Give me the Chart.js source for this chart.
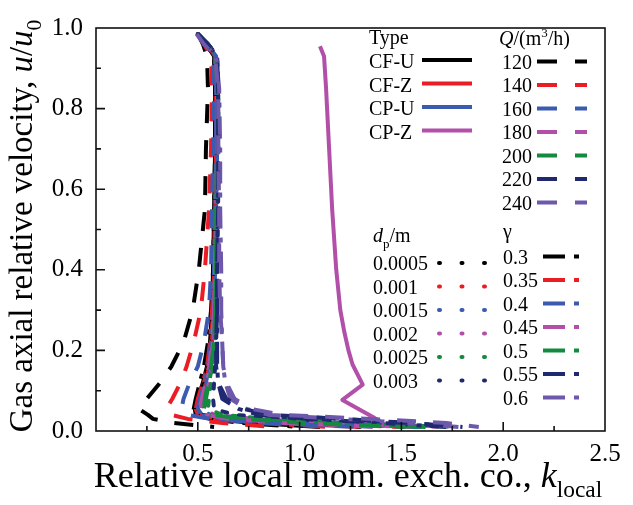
<!DOCTYPE html>
<html>
<head>
<meta charset="utf-8">
<script src="https://cdn.jsdelivr.net/npm/chart.js@4.4.1/dist/chart.umd.min.js"></script>
<style>
  body { margin: 0; background: #fff; }
  canvas { display: block; }
</style>
</head>
<body>
<canvas id="kChart" width="633" height="505"></canvas>
<script>
// shared axial velocity levels (u/u0) for the main cluster of curves
const uLevels = [0.985, 0.96, 0.93, 0.85, 0.70, 0.55, 0.40, 0.30, 0.22, 0.16, 0.12, 0.08, 0.055, 0.04, 0.03, 0.02, 0.01];

// Type (solid)
const typeNames = ["CF-U", "CF-Z", "CP-U", "CP-Z"];
const kCFU = [0.50, 0.54, 0.58, 0.585, 0.585, 0.58, 0.575, 0.57, 0.56, 0.545, 0.525, 0.50, 0.485, 0.49, 0.56, 0.78, 1.10];
const kCFZ = [0.50, 0.545, 0.585, 0.59, 0.59, 0.585, 0.58, 0.575, 0.565, 0.55, 0.53, 0.505, 0.49, 0.50, 0.60, 0.88, 1.30];
const kCPU = [0.50, 0.545, 0.59, 0.595, 0.595, 0.59, 0.585, 0.58, 0.57, 0.555, 0.54, 0.515, 0.50, 0.52, 0.66, 0.98, 1.60];
const uCPZ = [0.955, 0.93, 0.85, 0.70, 0.55, 0.40, 0.30, 0.245, 0.20, 0.165, 0.115, 0.077, 0.035, 0.015];
const kCPZ = [1.10, 1.12, 1.13, 1.145, 1.16, 1.18, 1.20, 1.22, 1.24, 1.26, 1.31, 1.21, 1.36, 1.42];

// Q (dashed)
const qNames = ["120", "140", "160", "180", "200", "220", "240"];
const kQ120 = [0.50, 0.525, 0.545, 0.55, 0.54, 0.535, 0.505, 0.475, 0.43, 0.37, 0.315, 0.25, 0.21, 0.255, 0.28, 0.38, 0.58];
const kQ140 = [0.50, 0.53, 0.565, 0.57, 0.565, 0.555, 0.535, 0.515, 0.48, 0.445, 0.415, 0.375, 0.345, 0.37, 0.45, 0.62, 0.88];
const kQ160 = [0.50, 0.535, 0.575, 0.58, 0.575, 0.57, 0.565, 0.555, 0.53, 0.50, 0.46, 0.43, 0.42, 0.45, 0.56, 0.82, 1.30];
const kQ180 = [0.50, 0.545, 0.59, 0.595, 0.595, 0.59, 0.585, 0.58, 0.57, 0.555, 0.54, 0.52, 0.51, 0.54, 0.66, 0.92, 1.42];
const kQ200 = [0.50, 0.55, 0.59, 0.595, 0.595, 0.59, 0.59, 0.585, 0.58, 0.565, 0.55, 0.535, 0.53, 0.57, 0.72, 1.02, 1.52];
const kQ220 = [0.50, 0.55, 0.595, 0.60, 0.60, 0.60, 0.595, 0.595, 0.59, 0.59, 0.60, 0.64, 0.72, 0.86, 1.20, 1.55, 1.80];
const kQ240 = [0.495, 0.53, 0.585, 0.60, 0.60, 0.605, 0.605, 0.61, 0.62, 0.625, 0.64, 0.68, 0.76, 0.92, 1.35, 1.72, 1.88];

// dp (dotted)
const dpNames = ["0.0005", "0.001", "0.0015", "0.002", "0.0025", "0.003"];
const kD0005 = [0.50, 0.545, 0.585, 0.59, 0.59, 0.585, 0.58, 0.575, 0.565, 0.55, 0.53, 0.51, 0.50, 0.52, 0.62, 0.90, 1.35];
const kD001 = [0.50, 0.545, 0.585, 0.59, 0.59, 0.585, 0.58, 0.575, 0.57, 0.555, 0.54, 0.52, 0.51, 0.54, 0.68, 1.00, 1.50];
const kD0015 = [0.50, 0.55, 0.59, 0.595, 0.595, 0.59, 0.585, 0.58, 0.575, 0.56, 0.545, 0.53, 0.52, 0.56, 0.72, 1.08, 1.62];
const kD002 = [0.50, 0.55, 0.59, 0.595, 0.595, 0.59, 0.59, 0.585, 0.58, 0.57, 0.555, 0.54, 0.535, 0.58, 0.78, 1.15, 1.70];
const kD0025 = [0.50, 0.55, 0.59, 0.60, 0.60, 0.595, 0.59, 0.59, 0.585, 0.575, 0.565, 0.555, 0.55, 0.62, 0.85, 1.22, 1.75];
const kD003 = [0.50, 0.55, 0.595, 0.60, 0.60, 0.60, 0.595, 0.595, 0.59, 0.585, 0.58, 0.575, 0.58, 0.68, 0.95, 1.30, 1.78];

// gamma (dash-dot)
const gammaNames = ["0.3", "0.35", "0.4", "0.45", "0.5", "0.55", "0.6"];
const kG03 = [0.50, 0.54, 0.58, 0.585, 0.585, 0.58, 0.575, 0.565, 0.55, 0.53, 0.51, 0.49, 0.48, 0.49, 0.55, 0.72, 1.00];
const kG035 = [0.50, 0.545, 0.585, 0.59, 0.59, 0.585, 0.58, 0.57, 0.56, 0.545, 0.525, 0.50, 0.49, 0.50, 0.58, 0.80, 1.15];
const kG04 = [0.50, 0.545, 0.585, 0.59, 0.59, 0.585, 0.58, 0.575, 0.565, 0.55, 0.535, 0.51, 0.50, 0.51, 0.62, 0.90, 1.40];
const kG045 = [0.50, 0.55, 0.59, 0.595, 0.595, 0.59, 0.585, 0.58, 0.575, 0.56, 0.545, 0.525, 0.515, 0.53, 0.66, 0.98, 1.55];
const kG05 = [0.50, 0.55, 0.59, 0.595, 0.595, 0.59, 0.59, 0.585, 0.58, 0.57, 0.555, 0.54, 0.53, 0.56, 0.72, 1.05, 1.62];
const kG055 = [0.50, 0.55, 0.595, 0.60, 0.60, 0.60, 0.595, 0.595, 0.595, 0.595, 0.60, 0.62, 0.70, 0.80, 1.05, 1.40, 1.72];
const kG06 = [0.495, 0.535, 0.59, 0.605, 0.61, 0.61, 0.615, 0.615, 0.62, 0.625, 0.635, 0.66, 0.74, 0.85, 1.20, 1.55, 1.78];

// tick labels
const xTickLabels = ["0.5", "1.0", "1.5", "2.0", "2.5"];
const yTickLabels = ["0.0", "0.2", "0.4", "0.6", "0.8", "1.0"];

const BLACK = "#000000", RED = "#ec1c24", BLUE = "#3b5bb0", MAG = "#b14fa9",
      GREEN = "#138a3f", NAVY = "#1f2870", PURPLE = "#6d58ab";
const SERIF = '"Liberation Serif", "Times New Roman", serif';

const DASH = [19, 17], DOT = [5, 12], DASHDOT = [22, 9, 5, 9];

function pts(ks, us) {
  return ks.map((k, i) => ({ x: k, y: us[i] }));
}

const groups = [
  { dash: [], cols: [BLACK, RED, BLUE, MAG], series: [kCFU, kCFZ, kCPU, kCPZ] },
  { dash: DOT, cols: [BLACK, RED, BLUE, MAG, GREEN, NAVY], series: [kD0005, kD001, kD0015, kD002, kD0025, kD003] },
  { dash: DASHDOT, cols: [BLACK, RED, BLUE, MAG, GREEN, NAVY, PURPLE], series: [kG03, kG035, kG04, kG045, kG05, kG055, kG06] },
  { dash: DASH, cols: [BLACK, RED, BLUE, MAG, GREEN, NAVY, PURPLE], series: [kQ120, kQ140, kQ160, kQ180, kQ200, kQ220, kQ240] }
];

const datasets = [];
groups.forEach(g => {
  g.series.forEach((ks, i) => {
    datasets.push({
      data: pts(ks, ks === kCPZ ? uCPZ : uLevels),
      borderColor: g.cols[i],
      borderWidth: 4,
      borderDash: g.dash,
      borderCapStyle: g.dash === DOT ? "round" : "butt",
      borderJoinStyle: "round",
      showLine: true,
      pointRadius: 0,
      tension: 0
    });
  });
});
// later datasets drawn on top
datasets.forEach((d, i) => { d.order = datasets.length - i; });

// text with italic / sub / superscript pieces
function richWidth(ctx, parts, size) {
  let w = 0;
  parts.forEach(p => {
    const s = (p[1] === "sub" || p[1] === "sup" || p[1] === "isub") ? size * 0.65 : size;
    ctx.font = (p[1] === "i" || p[1] === "isub" ? "italic " : "") + s + "px " + SERIF;
    w += ctx.measureText(p[0]).width;
  });
  return w;
}
function richText(ctx, parts, x, y, size, align) {
  let cx = align === "center" ? x - richWidth(ctx, parts, size) / 2 : x;
  ctx.textAlign = "left";
  ctx.textBaseline = "alphabetic";
  parts.forEach(p => {
    const small = p[1] === "sub" || p[1] === "sup" || p[1] === "isub";
    const s = small ? size * 0.65 : size;
    ctx.font = (p[1] === "i" || p[1] === "isub" ? "italic " : "") + s + "px " + SERIF;
    let dy = 0;
    if (p[1] === "sub" || p[1] === "isub") dy = size * 0.28;
    if (p[1] === "sup") dy = -size * 0.38;
    ctx.fillText(p[0], cx, y + dy);
    cx += ctx.measureText(p[0]).width;
  });
}

function sample(ctx, x0, x1, y, color, dash, cap) {
  ctx.save();
  ctx.strokeStyle = color;
  ctx.lineWidth = 4;
  ctx.setLineDash(dash);
  ctx.lineCap = cap || "butt";
  ctx.beginPath();
  ctx.moveTo(x0, y);
  ctx.lineTo(x1, y);
  ctx.stroke();
  ctx.restore();
}

const decor = {
  id: "decor",
  afterDatasetsDraw(chart) {
    const { ctx, chartArea: a, scales } = chart;
    ctx.save();
    ctx.strokeStyle = "#111";
    ctx.lineWidth = 1.6;
    ctx.strokeRect(a.left, a.top, a.right - a.left, a.bottom - a.top);
    ctx.beginPath();
    for (let v = 0.25; v < 2.5; v += 0.25) {
      const px = scales.x.getPixelForValue(v);
      const len = Math.abs(v * 2 - Math.round(v * 2)) < 1e-6 ? 9 : 5;
      ctx.moveTo(px, a.bottom);
      ctx.lineTo(px, a.bottom - len);
    }
    for (let i = 1; i < 10; i++) {
      const py = scales.y.getPixelForValue(i / 10);
      const len = i % 2 === 0 ? 9 : 5;
      ctx.moveTo(a.left, py);
      ctx.lineTo(a.left + len, py);
    }
    ctx.stroke();
    ctx.restore();
  },
  afterDraw(chart) {
    const { ctx } = chart;
    ctx.save();
    ctx.fillStyle = "#000";
    // axis titles
    richText(ctx, [["Relative local mom. exch. co., ", "n"], ["k", "i"], ["local", "sub"]], 348, 487, 36, "center");
    ctx.save();
    ctx.translate(32, 226);
    ctx.rotate(-Math.PI / 2);
    richText(ctx, [["Gas axial relative velocity, ", "n"], ["u", "i"], ["/", "n"], ["u", "i"], ["0", "sub"]], 0, 0, 33, "center");
    ctx.restore();

    const fs = 20, step = 23.5;
    const cols7 = [BLACK, RED, BLUE, MAG, GREEN, NAVY, PURPLE];
    // Type
    richText(ctx, [["Type", "n"]], 369, 44, fs);
    typeNames.forEach((n, i) => {
      const b = 68 + i * step;
      richText(ctx, [[n, "n"]], 369, b, fs);
      sample(ctx, 422, 472, b - 8, cols7[i], []);
    });
    // Q
    richText(ctx, [["Q", "i"], ["/(m", "n"], ["3", "sup"], ["/h)", "n"]], 499, 45, fs);
    qNames.forEach((n, i) => {
      const b = 68.5 + i * step;
      richText(ctx, [[n, "n"]], 502, b, fs);
      sample(ctx, 537, 587, b - 7, cols7[i], [20, 18]);
    });
    // dp
    richText(ctx, [["d", "i"], ["p", "sub"], ["/m", "n"]], 373, 242, fs);
    dpNames.forEach((n, i) => {
      const b = 270 + i * step;
      richText(ctx, [[n, "n"]], 373, b, fs);
      sample(ctx, 439, 489, b - 7, cols7[i], [1, 21.5], "round");
    });
    // gamma
    richText(ctx, [["\u03b3", "n"]], 503, 238, fs);
    gammaNames.forEach((n, i) => {
      const b = 263.5 + i * step;
      richText(ctx, [[n, "n"]], 503, b, fs);
      sample(ctx, 543, 581, b - 7, cols7[i], [22, 9, 5, 9]);
    });
    ctx.restore();
  }
};

new Chart(document.getElementById("kChart"), {
  type: "scatter",
  data: { datasets },
  options: {
    responsive: false,
    animation: false,
    layout: { padding: { top: 19, right: 28, left: 0, bottom: 0 } },
    plugins: { legend: { display: false }, tooltip: { enabled: false } },
    scales: {
      x: {
        type: "linear",
        min: 0,
        max: 2.5,
        grid: { display: false, drawTicks: false },
        border: { display: false },
        afterFit: s => { s.height = 74; },
        ticks: {
          stepSize: 0.5,
          padding: 8,
          color: "#000",
          maxRotation: 0,
          font: { family: SERIF, size: 25 },
          callback: v => {
            const i = Math.round(v * 2) - 1;
            return i >= 0 ? xTickLabels[i] : "";
          }
        }
      },
      y: {
        type: "linear",
        min: 0,
        max: 1,
        grid: { display: false, drawTicks: false },
        border: { display: false },
        afterFit: s => { s.width = 96; },
        ticks: {
          stepSize: 0.2,
          padding: 13,
          color: "#000",
          font: { family: SERIF, size: 25 },
          callback: v => yTickLabels[Math.round(v * 5)]
        }
      }
    }
  },
  plugins: [decor]
});
</script>
</body>
</html>
